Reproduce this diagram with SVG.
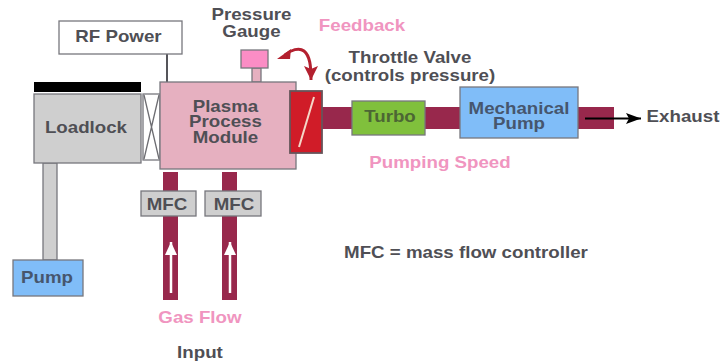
<svg xmlns="http://www.w3.org/2000/svg" width="721" height="364" viewBox="0 0 721 364">
<defs>
<marker id="ab" markerUnits="userSpaceOnUse" markerWidth="16" markerHeight="12" refX="15" refY="6" orient="auto"><path d="M0 0.500L15 6L0 11.500L3 6Z" fill="#000"/></marker>
<marker id="aw" markerUnits="userSpaceOnUse" markerWidth="14" markerHeight="14" refX="13" refY="6" orient="auto"><path d="M0 0L13 6L0 12Z" fill="#fff"/></marker>
<marker id="ar" markerUnits="userSpaceOnUse" markerWidth="15" markerHeight="15" refX="14" refY="7" orient="auto"><path d="M0 0L14 7L0 14L3 7Z" fill="#b3202f"/></marker>
</defs>
<style>
text{font-family:"Liberation Sans",Arial,sans-serif;font-weight:700;text-anchor:middle;fill:#4f4f55;transform-box:fill-box;transform-origin:center;transform:scaleX(1.17)}
.t{font-size:16px}
.p{font-size:16px;fill:#f095c0}
.bl{fill:#46566e}
.gr{fill:#4c6634}
.b{stroke:#77777d;stroke-width:1.3}
.pipe{fill:#98284c}
</style>
<rect width="721" height="364" fill="#fff"/>
<g id="connectors">
<rect x="166" y="54" width="2" height="28" fill="#55555a"/>
<rect x="43" y="163" width="14" height="97" fill="#cfcfcf" class="b"/>
<rect x="252" y="68" width="9" height="14" fill="#e6b0c0" class="b"/>
<rect x="143" y="94" width="17" height="66" fill="#fff" class="b"/>
<path d="M144 95L159 159M159 95L144 159" fill="none" stroke="#6d6d72" stroke-width="1.3"/>
<rect x="163" y="172" width="15" height="128" class="pipe"/>
<rect x="222" y="172" width="15" height="128" class="pipe"/>
<rect x="322" y="107" width="31" height="22" class="pipe"/>
<rect x="425" y="107" width="36" height="22" class="pipe"/>
<rect x="578" y="107" width="36" height="22" class="pipe"/>
<path d="M585 118.500H641" stroke="#000" stroke-width="2" fill="none" marker-end="url(#ab)"/>
<path d="M171 293V242" stroke="#fff" stroke-width="2.500" fill="none" marker-end="url(#aw)"/>
<path d="M230 293V242" stroke="#fff" stroke-width="2.500" fill="none" marker-end="url(#aw)"/>
<path d="M285 55C291 50 299 47 304 51C310 56 311 66 311 80" stroke="#b3202f" stroke-width="3" fill="none" marker-end="url(#ar)"/>
<path d="M277 59L291 49L290 59Z" fill="#b3202f"/>
</g>
<g id="rf-power"><rect x="59" y="21" width="123" height="33" fill="#fff" class="b"/><text class="t" x="118.500" y="42">RF Power</text></g>
<g id="gauge"><rect x="241" y="50" width="27" height="18" fill="#fb8dc5" class="b"/><text class="t" x="251.500" y="20">Pressure</text><text class="t" x="251.500" y="37">Gauge</text></g>
<g id="loadlock"><rect x="34" y="82" width="107" height="10" fill="#000"/><rect x="34" y="94" width="107" height="69" fill="#cfcfcf" class="b"/><text class="t" x="86" y="133">Loadlock</text></g>
<g id="module"><rect x="160" y="82" width="136" height="87" fill="#e6b0c0" class="b"/><text class="t" x="225.500" y="112">Plasma</text><text class="t" x="225.500" y="127">Process</text><text class="t" x="225.500" y="143">Module</text></g>
<g id="valve"><rect x="290" y="91" width="32" height="62" fill="#d01c28" stroke="#66555a" stroke-width="1.800"/><path d="M299 147L314 97" stroke="#f5d7c8" stroke-width="2"/></g>
<g id="turbo"><rect x="352" y="101" width="73" height="34" fill="#80c03c" class="b"/><text class="t gr" x="390" y="122">Turbo</text></g>
<g id="mech"><rect x="460" y="87" width="118" height="51" fill="#80bdf8" class="b"/><text class="t bl" x="519" y="114">Mechanical</text><text class="t bl" x="519" y="129">Pump</text></g>
<g id="pump"><rect x="13" y="260" width="70" height="36" fill="#80bdf8" class="b"/><text class="t bl" x="47" y="283">Pump</text></g>
<g id="mfc1"><rect x="141" y="191" width="55" height="25" fill="#cfcfcf" class="b"/><text class="t" x="167" y="210">MFC</text></g>
<g id="mfc2"><rect x="205" y="191" width="56" height="25" fill="#cfcfcf" class="b"/><text class="t" x="234" y="210">MFC</text></g>
<g id="labels">
<text class="p" x="362" y="31">Feedback</text>
<text class="t" x="410" y="63">Throttle Valve</text>
<text class="t" x="410" y="81">(controls pressure)</text>
<text class="t" x="683" y="122">Exhaust</text>
<text class="p" x="440" y="168">Pumping Speed</text>
<text class="t" x="466" y="258">MFC = mass flow controller</text>
<text class="p" x="200" y="323">Gas Flow</text>
<text class="t" x="200" y="358">Input</text>
</g>
</svg>
